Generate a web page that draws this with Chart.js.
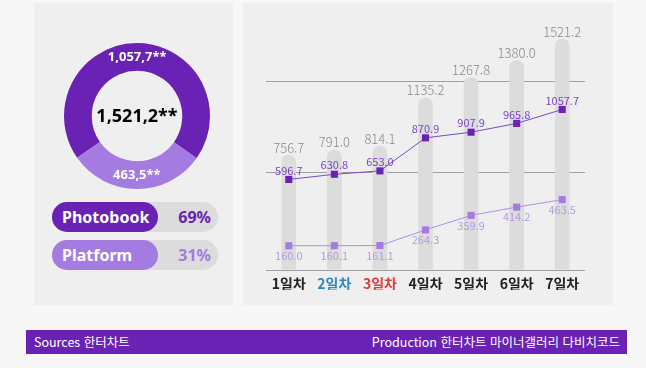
<!DOCTYPE html>
<html lang="ko">
<head>
<meta charset="UTF-8">
<title>일차별 초동</title>
<script src="https://cdn.jsdelivr.net/npm/chart.js"></script>
<style>
  * { box-sizing: border-box; }
  body {
    margin: 0;
    width: 646px;
    height: 368px;
    background: #f7f7f7;
    font-family: "Noto Sans CJK KR", "Noto Sans", sans-serif;
    position: relative;
    overflow: hidden;
  }
  .panel { position: absolute; background: #efefef; }
  #leftPanel { left: 34px; top: 3px; width: 199px; height: 302px; }
  #rightPanel { left: 243px; top: 3px; width: 370px; height: 302px; }
  #donutChart { position: absolute; left: 64px; top: 43px; }
  #dayChart { position: absolute; left: 243px; top: 3px; }

  .pill {
    position: absolute;
    left: 52px;
    width: 166px;
    height: 30px;
    border-radius: 15px;
    background: #dcdcdc;
  }
  .pill .fill {
    position: absolute;
    left: 0; top: 0;
    width: 106px; height: 30px;
    border-radius: 15px;
    color: #fff;
    font-family: "Noto Sans", sans-serif;
    font-weight: bold;
    font-size: 16px;
    line-height: 30px;
    padding-left: 10px;
  }
  .pill .pct {
    position: absolute;
    right: 7px; top: 0;
    line-height: 30px;
    font-family: "Noto Sans", sans-serif;
    font-weight: bold;
    font-size: 16px;
  }

  .footer {
    position: absolute;
    left: 26px; top: 330px;
    width: 601px; height: 24px;
    background: #6a22b5;
    color: #fff;
    font-size: 12.5px;
    line-height: 24px;
    padding: 0 7px 0 8px;
    display: flex;
    justify-content: space-between;
  }
</style>
</head>
<body>
  <div class="panel" id="leftPanel"></div>
  <div class="panel" id="rightPanel"></div>

  <canvas id="donutChart" width="146" height="146"></canvas>
  <div id="pills"></div>

  <canvas id="dayChart" width="370" height="302"></canvas>

  <div class="footer">
    <span>Sources 한터차트</span>
    <span>Production 한터차트 마이너갤러리 다비치코드</span>
  </div>

<script>
  // 데이터
  const days = ['1일차', '2일차', '3일차', '4일차', '5일차', '6일차', '7일차'];
  const dayColors = ['#222', '#2e86c1', '#e53935', '#222', '#222', '#222', '#222'];
  const totalSales = [756.7, 791.0, 814.1, 1135.2, 1267.8, 1380.0, 1521.2];
  const photobookSales = [596.7, 630.8, 653.0, 870.9, 907.9, 965.8, 1057.7];
  const platformSales = [160.0, 160.1, 161.1, 264.3, 359.9, 414.2, 463.5];
  const gridValues = [0, 640, 1240];

  const shareNames = ['Photobook', 'Platform'];
  const shareValues = [1057.7, 463.5];
  const shareTexts = ['1,057,7**', '463,5**'];
  const sharePct = ['69%', '31%'];
  const totalText = '1,521,2**';

  const DARK = '#6a22b5';
  const LIGHT = '#a47be0';

  Chart.defaults.font.family = '"Noto Sans CJK KR", "Noto Sans", sans-serif';

  // 도넛 안 글자
  const donutText = {
    id: 'donutText',
    afterDatasetsDraw(chart) {
      const ctx = chart.ctx;
      const meta = chart.getDatasetMeta(0);
      ctx.save();
      ctx.textAlign = 'center';
      ctx.textBaseline = 'middle';
      ctx.fillStyle = '#fff';
      ctx.font = 'bold 13px "Noto Sans", sans-serif';
      meta.data.forEach((arc, i) => {
        const p = arc.tooltipPosition();
        ctx.fillText(shareTexts[i], p.x, p.y);
      });
      const a = chart.chartArea;
      ctx.fillStyle = '#000';
      ctx.font = 'bold 18px "Noto Sans", sans-serif';
      ctx.fillText(totalText, (a.left + a.right) / 2, (a.top + a.bottom) / 2 + 1);
      ctx.restore();
    }
  };

  new Chart(document.getElementById('donutChart'), {
    type: 'doughnut',
    data: {
      labels: shareNames,
      datasets: [{
        data: shareValues,
        backgroundColor: [DARK, LIGHT],
        borderWidth: 0
      }]
    },
    options: {
      responsive: false,
      animation: false,
      cutout: '62%',
      rotation: -Math.round(shareValues[0] / (shareValues[0] + shareValues[1]) * 180),
      plugins: { legend: { display: false }, tooltip: { enabled: false } }
    },
    plugins: [donutText]
  });

  // 비율 막대
  const pills = document.getElementById('pills');
  shareNames.forEach((name, i) => {
    const col = i === 0 ? DARK : LIGHT;
    const el = document.createElement('div');
    el.className = 'pill';
    el.style.top = (202 + i * 38) + 'px';
    el.innerHTML = '<div class="fill" style="background:' + col + '">' + name + '</div>' +
      '<div class="pct" style="color:' + col + '">' + sharePct[i] + '</div>';
    pills.appendChild(el);
  });

  // 값 표시
  const valueLabels = {
    id: 'valueLabels',
    afterDatasetsDraw(chart) {
      const ctx = chart.ctx;
      ctx.save();
      ctx.textAlign = 'center';
      chart.data.datasets.forEach((ds, i) => {
        const meta = chart.getDatasetMeta(i);
        ctx.fillStyle = ds.labelColor;
        ctx.font = ds.labelFont;
        meta.data.forEach((el, j) => {
          const txt = ds.data[j].toFixed(1);
          if (ds.type === 'bar') {
            ctx.textBaseline = 'bottom';
            ctx.fillText(txt, el.x, el.y - 1);
          } else {
            ctx.textBaseline = 'middle';
            ctx.fillText(txt, el.x, el.y + ds.labelOffset);
          }
        });
      });
      ctx.restore();
    }
  };

  new Chart(document.getElementById('dayChart'), {
    type: 'bar',
    data: {
      labels: days,
      datasets: [
        {
          type: 'line',
          data: photobookSales,
          borderColor: '#7c4ac8',
          backgroundColor: DARK,
          borderWidth: 1,
          pointStyle: 'rect',
          pointRadius: 5,
          pointBorderWidth: 0,
          order: 1,
          labelColor: '#7a44c4',
          labelFont: '11px "Noto Sans CJK KR", sans-serif',
          labelOffset: -9
        },
        {
          type: 'line',
          data: platformSales,
          borderColor: '#b08ee4',
          backgroundColor: LIGHT,
          borderWidth: 1,
          pointStyle: 'rect',
          pointRadius: 5,
          pointBorderWidth: 0,
          order: 2,
          labelColor: '#b39be0',
          labelFont: '11px "Noto Sans CJK KR", sans-serif',
          labelOffset: 10
        },
        {
          type: 'bar',
          data: totalSales,
          backgroundColor: '#dcdcdc',
          barThickness: 14,
          borderRadius: 7,
          order: 3,
          labelColor: '#8a8a8a',
          labelFont: '300 13px "Noto Sans CJK KR", sans-serif'
        }
      ]
    },
    options: {
      responsive: false,
      animation: false,
      layout: { padding: { top: 9, bottom: 15, left: 23, right: 28 } },
      scales: {
        x: {
          grid: { display: false },
          border: { display: false },
          afterFit(scale) { scale.height = 20; },
          ticks: {
            color: dayColors,
            padding: -3,
            font: { size: 14, weight: 600 }
          }
        },
        y: {
          min: 0,
          max: 1700,
          afterBuildTicks(scale) {
            scale.ticks = gridValues.map(v => ({ value: v }));
          },
          ticks: { display: false },
          border: { display: false },
          grid: { color: '#a0a0a0', lineWidth: 1, drawTicks: false }
        }
      },
      plugins: { legend: { display: false }, tooltip: { enabled: false } }
    },
    plugins: [valueLabels]
  });
</script>
</body>
</html>
